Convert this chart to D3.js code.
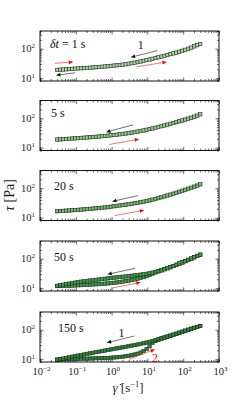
<!DOCTYPE html>
<html><head><meta charset="utf-8">
<script src="https://cdn.jsdelivr.net/npm/d3@7/dist/d3.min.js"></script>
<style>html,body{margin:0;padding:0;background:#fff;}svg{display:block;}</style>
</head><body>
<script>
// ---- data ----
const gamma = [0.0300,0.0363,0.0440,0.0533,0.0646,0.0783,0.0949,0.115,0.139,0.169,0.204,0.248,
  0.300,0.363,0.440,0.533,0.646,0.783,0.949,1.15,1.39,1.69,2.04,2.48,
  3.00,3.63,4.40,5.33,6.46,7.83,9.49,11.5,13.9,16.9,20.4,24.8,
  30.0,36.3,44.0,53.3,64.6,78.3,94.9,115,139,169,204,248,300];

const tau1 = [19.0,19.3,19.7,20.0,20.3,20.7,21.0,21.3,21.7,22.0,22.3,22.7,
  23.0,23.4,23.9,24.4,24.9,25.4,26.0,26.7,27.3,28.0,28.8,29.7,
  31.0,32.2,33.5,35.0,36.8,38.8,41.0,43.1,45.5,48.2,51.2,54.2,
  57.5,61.2,65.3,69.5,74.0,79.2,85.0,91.7,99.7,109,120,132,145];
const tau2 = [18.8,19.1,19.4,19.7,20.0,20.4,20.7,21.0,21.4,21.8,22.2,22.6,
  23.0,23.4,23.9,24.4,24.9,25.5,26.2,26.9,27.6,28.4,29.3,30.2,
  31.2,32.4,33.7,35.1,36.7,38.5,40.5,42.7,45.0,47.6,50.4,53.5,
  56.8,60.5,64.4,68.7,73.3,78.3,83.8,90.0,96.8,104,113,123,135];
const tau3 = [16.5,16.8,17.0,17.3,17.5,17.8,18.1,18.4,18.8,19.1,19.5,19.9,
  20.3,20.7,21.2,21.7,22.2,22.8,23.5,24.3,25.0,25.9,26.7,27.6,
  28.5,29.6,30.8,32.0,33.4,34.9,36.6,38.6,40.9,43.4,46.2,49.3,
  52.7,56.5,60.8,65.4,70.5,76.0,82.0,88.7,96.0,104,113,123,135];
const tau4Down = [12.0,12.5,13.1,13.7,14.2,14.8,15.4,16.0,16.6,17.1,17.6,18.1,
  18.7,19.2,19.7,20.3,20.8,21.4,22.0,22.6,23.2,23.8,24.4,25.0,
  25.7,26.4,27.1,27.9,28.8,29.7,30.8,32.1,33.7,35.6,37.8,40.5,
  44.0,47.8,51.8,56.5,62.2,68.3,75.0,82.5,91.3,101,112,124,137];
const tau4Up = [11.8,11.9,12.0,12.1,12.1,12.2,12.3,12.5,12.6,12.8,13.0,13.1,
  13.3,13.5,13.7,14.0,14.2,14.5,14.8,15.2,15.6,16.1,16.7,17.3,
  18.0,18.8,19.8,20.9,22.2,23.7,25.5,28.0,31.2,34.3,37.2,40.3,
  44.0,47.8,51.8,56.5,62.2,68.3,75.0,82.5,91.3,101,112,124,137];
const tau5Down = [9.6,10.0,10.5,11.0,11.5,12.1,12.6,13.2,13.8,14.4,15.1,15.7,
  16.4,17.2,17.9,18.7,19.5,20.4,21.3,22.2,23.2,24.2,25.2,26.3,
  27.5,28.8,30.1,31.5,33.0,34.7,36.6,38.9,41.5,44.3,47.3,50.8,
  54.5,58.7,63.2,68.0,73.3,79.3,85.5,92.6,100,108,116,125,134];
const tau5Up = [9.6,9.7,9.8,9.9,9.9,10.0,10.1,10.2,10.3,10.4,10.4,10.5,
  10.6,10.7,10.8,10.9,10.9,11.0,11.2,11.4,11.6,11.9,12.1,12.6,
  13.0,13.6,14.4,15.3,16.7,19.0,22.0,27.4,35.8,41.5,45.8,50.0,
  54.0,58.2,62.7,67.5,72.8,78.7,85.0,92.1,99.5,108,116,124,134];

const panelSeries = [[tau1],[tau2],[tau3],[tau4Up,tau4Down],[tau5Up,tau5Down]];
const panelLabels = ["= 1 s","5 s","20 s","50 s","150 s"];
const xTickExp = [-2,-1,0,1,2,3];
const yTickExp = [1,2];
// arrows in data coords: [panel, g0, t0, g1, t1, colour]
const arrows = [
  [0,0.026,32,0.085,35.4,"red"],
  [0,0.095,15.3,0.028,12.5,"black"],
  [0,19,86,3.4,51,"black"],
  [0,5.0,24.5,35,35.4,"red"],
  [1,4.0,59.7,0.70,33.5,"black"],
  [1,0.86,12.8,5.9,19.4,"red"],
  [2,5.6,56.5,1.03,35.4,"black"],
  [2,1.24,11.8,8.2,17.9,"red"],
  [3,4.5,47.2,0.76,29.5,"black"],
  [3,0.96,9.9,6.5,15.8,"red"],
  [4,4.3,61,0.73,36.2,"black"],
  [4,3.1,9.9,16.3,21.6,"red"]
];
const arrowLabels = [[0,6.5,134,"1","#111"],[4,1.9,77,"1","#111"],[4,16.3,10.7,"2","#e00"]];

// ---- layout ----
const W=242,H=407;
const left=40,right=219,ph=50;
const tops=[31,100.5,170.5,241,312];
const fills=["#a9d6a0","#93cc8b","#76bb70","#3f9c48","#2b8637"];
const font="'Liberation Serif','DejaVu Serif',serif";

const svg=d3.select("body").append("svg").attr("width",W).attr("height",H);
const x=d3.scaleLog().domain([1e-2,1e3]).range([left,right]);
const xMinor=[];for(let e=-2;e<3;e++)for(let m=2;m<10;m++)xMinor.push(m*Math.pow(10,e));
const xMajor=xTickExp.map(e=>Math.pow(10,e));
const yMinor=[8,9,20,30,40,50,60,70,80,90,200,300,400];
const yMajor=yTickExp.map(e=>Math.pow(10,e));

panelSeries.forEach((series,i)=>{
  const top=tops[i];
  const y=d3.scaleLog().domain([8,400]).range([top+ph,top]);
  const g=svg.append("g");
  const mk=(axisFn,scale,vals,size,tr)=>{
    const a=g.append("g").attr("transform",tr).call(axisFn(scale).tickValues(vals).tickSize(-size).tickFormat(""));
    a.select(".domain").remove();
    a.selectAll("line").attr("stroke","#000").attr("stroke-width",0.6);
  };
  mk(d3.axisBottom,x,xMajor,3.5,`translate(0,${top+ph})`);
  mk(d3.axisBottom,x,xMinor,2,`translate(0,${top+ph})`);
  mk(d3.axisTop,x,xMajor,3.5,`translate(0,${top})`);
  mk(d3.axisTop,x,xMinor,2,`translate(0,${top})`);
  mk(d3.axisLeft,y,yMajor,3.5,`translate(${left},0)`);
  mk(d3.axisLeft,y,yMinor,2,`translate(${left},0)`);
  mk(d3.axisRight,y,yMajor,3.5,`translate(${right},0)`);
  mk(d3.axisRight,y,yMinor,2,`translate(${right},0)`);

  yTickExp.forEach(e=>{
    const t=g.append("text").attr("x",left-5).attr("y",y(Math.pow(10,e))+3.5)
      .attr("text-anchor","end").attr("font-family",font).attr("font-size",10.5).attr("fill","#222");
    t.append("tspan").text("10");
    t.append("tspan").attr("font-size",7).attr("dy",-4).text(e);
  });
  if(i===4){
    xTickExp.forEach(e=>{
      const t=g.append("text").attr("x",x(Math.pow(10,e))+1.5).attr("y",top+ph+12.5)
        .attr("text-anchor","middle").attr("font-family",font).attr("font-size",10.5).attr("fill","#222");
      t.append("tspan").text("10");
      t.append("tspan").attr("font-size",7).attr("dy",-4).text(e===-2||e===-1?"−"+(-e):e);
    });
  }

  series.forEach(s=>{
    g.append("g").selectAll("rect").data(gamma.map((gv,k)=>[gv,s[k]])).join("rect")
      .attr("x",d=>x(d[0])-1.7).attr("y",d=>y(d[1])-1.7)
      .attr("width",3.4).attr("height",3.4)
      .attr("fill",fills[i]).attr("stroke","#1e2b1e").attr("stroke-width",0.6);
  });

  g.append("rect").attr("x",left).attr("y",top).attr("width",right-left).attr("height",ph)
    .attr("fill","none").attr("stroke","#111").attr("stroke-width",1);

  const lt=g.append("text").attr("x",i===0?50:(i===1?51:(i===4?58:54))).attr("y",top+(i<2?16.5:19.5))
    .attr("font-family",font).attr("font-size",12).attr("fill","#111");
  if(i===0){lt.append("tspan").attr("font-style","italic").text("δt ");}
  lt.append("tspan").text(panelLabels[i]);

  arrows.filter(a=>a[0]===i).forEach(a=>{
    const x0=x(a[1]),y0=y(a[2]),x1=x(a[3]),y1=y(a[4]);
    const col=a[5]==="red"?"#f33":"#333";
    const dx=x1-x0,dy=y1-y0,L=Math.hypot(dx,dy),ux=dx/L,uy=dy/L;
    const hl=4.5,hw=1.9;
    const bx=x1-ux*hl,by=y1-uy*hl;
    g.append("line").attr("x1",x0).attr("y1",y0).attr("x2",bx).attr("y2",by)
      .attr("stroke",col).attr("stroke-width",0.7);
    g.append("path").attr("d",`M${x1},${y1}L${bx-uy*hw},${by+ux*hw}L${bx+uy*hw},${by-ux*hw}Z`)
      .attr("fill",a[5]==="red"?"#f00":"#111");
  });
  arrowLabels.filter(a=>a[0]===i).forEach(a=>{
    g.append("text").attr("x",x(a[1])).attr("y",y(a[2])+4).attr("text-anchor","middle")
      .attr("font-family",font).attr("font-size",12).attr("fill",a[4]).text(a[3]);
  });
});

const xt=svg.append("text").attr("x",128).attr("y",392).attr("text-anchor","middle")
  .attr("font-family",font).attr("font-size",13).attr("fill","#222");
xt.append("tspan").attr("font-style","italic").text("γ̇");
xt.append("tspan").text(" [s");
xt.append("tspan").attr("font-size",8.5).attr("dy",-5).text("−1");
xt.append("tspan").attr("dy",5).text("]");
const yt=svg.append("text").attr("transform","translate(14,195) rotate(-90)").attr("text-anchor","middle")
  .attr("font-family",font).attr("font-size",14).attr("fill","#222");
yt.append("tspan").attr("font-style","italic").text("τ");
yt.append("tspan").text(" [Pa]");
</script>
</body></html>
